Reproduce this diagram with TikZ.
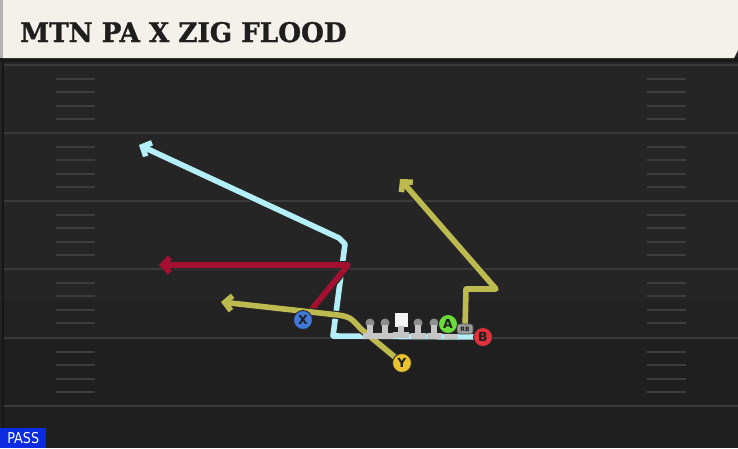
\documentclass[tikz,border=0pt]{standalone}
\usepackage{fontspec}
\usetikzlibrary{arrows.meta}
\newfontfamily\titlefont{DejaVu Serif}[UprightFont={* Bold}, FakeStretch=0.97, FakeBold=1.2]
\newfontfamily\labfont{DejaVu Sans}[UprightFont={* Bold}]
\newfontfamily\passfont{DejaVu Sans}[FakeStretch=0.85]
\definecolor{field}{HTML}{252525}
\definecolor{fielddark}{HTML}{1F1F1F}
\definecolor{yard}{HTML}{3A3A3A}
\definecolor{hash}{HTML}{3D3D3D}
\definecolor{banner}{HTML}{F4F1EA}
\definecolor{titleink}{HTML}{1E1E1E}
\definecolor{passblue}{HTML}{0A2BE0}
\definecolor{lblue}{HTML}{B4EEF8}
\definecolor{rred}{HTML}{A51030}
\definecolor{olive}{HTML}{BDBB50}
\definecolor{xblue}{HTML}{4079D8}
\definecolor{yyellow}{HTML}{EBC32C}
\definecolor{agreen}{HTML}{6CDB3B}
\definecolor{bred}{HTML}{E0323C}
\definecolor{rbgray}{HTML}{9C9C9C}
\definecolor{olhead}{HTML}{8E8E8E}
\definecolor{olbody}{HTML}{C6C6C6}
\pgfdeclarelayer{fieldlayer}
\pgfdeclarelayer{routelayer}
\pgfsetlayers{fieldlayer,routelayer,main}
\tikzset{
  yardline/.style={yard, line width=2pt},
  hashmark/.style={hash, line width=2pt},
  routeout/.style={black!85, line width=8pt, line join=round, line cap=butt},
  routein/.style={line width=5.6pt, line join=round, line cap=butt},
  tipout/.style={-{Straight Barb[length=7pt,width=15pt]}},
  player/.style={circle, draw=black!85, line width=0.9pt, minimum size=19pt, inner sep=0pt,
    font=\labfont\fontsize{12.5}{12.5}\selectfont, text=titleink},
  lineman/.style={inner sep=0pt, minimum size=2pt},
}
\begin{document}
\begin{tikzpicture}[x=1pt,y=-1pt]
\useasboundingbox (0,0) rectangle (738,448);
\begin{pgfonlayer}{fieldlayer}
  \fill[field] (0,0) rectangle (738,448);
  \fill[fielddark] (0,340) rectangle (738,448);
  \fill[field!50!fielddark] (0,300) rectangle (738,340);
  \draw[black!40!field, line width=1.5pt] (3,62) -- (3,448);
  \foreach \yy in {65,133,201,269,338,406} {
    \draw[yardline] (4,\yy) -- (738,\yy);
  }
  \foreach \yy in {65,133,201,269,338} {
    \foreach \k in {1,2,3,4} {
      \draw[hashmark] (56,\yy+13.6*\k) -- (95,\yy+13.6*\k);
      \draw[hashmark] (647,\yy+13.6*\k) -- (686,\yy+13.6*\k);
    }
  }
  % banner
  \fill[black!90] (0,57) rectangle (738,62);
  \fill[banner] (3,0) -- (738,0) -- (738,50) -- (734,58) -- (3,58) -- cycle;
  \fill[black!30] (0,0) rectangle (3,58);
\end{pgfonlayer}

\node[anchor=base west, inner sep=0pt, text=titleink,
  font=\titlefont\fontsize{27}{27}\selectfont] (title) at (20,42) {MTN PA X ZIG FLOOD};

\node[anchor=south west, fill=passblue, text=white, inner sep=0pt, minimum width=46pt, minimum height=20pt,
  font=\passfont\fontsize{15}{15}\selectfont] (pass) at (0,448) {PASS};

% offensive line
\foreach \n/\xx in {l1/370,l2/385,r1/418,r2/434} {
  \fill[olhead] (\xx,323) circle (4.5pt);
  \fill[olbody] (\xx-2.8,325) rectangle (\xx+2.8,334);
  \fill[olbody] (\xx-7.5,333) rectangle (\xx+7.5,338.5);
  \node[lineman] (\n) at (\xx,330) {};
}
\fill[white!96!black] (394.5,313) rectangle (407.5,327);
\fill[olbody] (398.2,326) rectangle (403.8,333);
\fill[olbody] (393,332) rectangle (409,337.5);
\node[lineman] (c) at (401,325) {};
\fill[olbody] (444,334) rectangle (458,339);

% players
\node[player, fill=agreen] (A) at (448,324) {A};
\node[rounded corners=2.5pt, fill=rbgray, draw=black!70, line width=0.6pt, inner sep=0pt,
  minimum width=16pt, minimum height=10pt, text=titleink,
  font=\labfont\fontsize{6}{6}\selectfont] (RB) at (465,329) {RB};
\node[player, fill=bred] (B) at (483,337) {B};
\node[player, fill=xblue] (X) at (303,320) {X};
\node[player, fill=yyellow] (Y) at (402,363) {Y};

\coordinate (b1) at (333,336);
\coordinate (b2) at (345,244);
\coordinate (b3) at (339,238);
\coordinate (b4) at (139,145);
\coordinate (x1) at (348,265);
\coordinate (x2) at (159,265);
\coordinate (y1) at (361,329);
\coordinate (y2) at (338,315);
\coordinate (y3) at (221,302);
\coordinate (r1) at (466,289);
\coordinate (r2) at (496,289);
\coordinate (r3) at (400,179);

\begin{pgfonlayer}{routelayer}
  % B route (light blue)
  \draw[routeout, tipout] (B.center) -- (b1) -- (b2) -- (b3) -- (b4);
  \draw[routein, lblue, tipout] (B.center) -- (b1) -- (b2) -- (b3) -- (b4);
  % X route (red)
  \draw[routeout, tipout] (X.center) -- (x1) -- (x2);
  \draw[routein, rred, tipout] (X.center) -- (x1) -- (x2);
  % Y route (olive)
  \draw[routeout, tipout] (Y.center) -- (y1) .. controls (350,317) .. (y2) -- (y3);
  \draw[routein, olive, tipout] (Y.center) -- (y1) .. controls (350,317) .. (y2) -- (y3);
  % RB route (olive)
  \draw[routeout, tipout] (RB.center) -- (r1) -- (r2) -- (r3);
  \draw[routein, olive, tipout] (RB.center) -- (r1) -- (r2) -- (r3);
\end{pgfonlayer}
\end{tikzpicture}
\end{document}
